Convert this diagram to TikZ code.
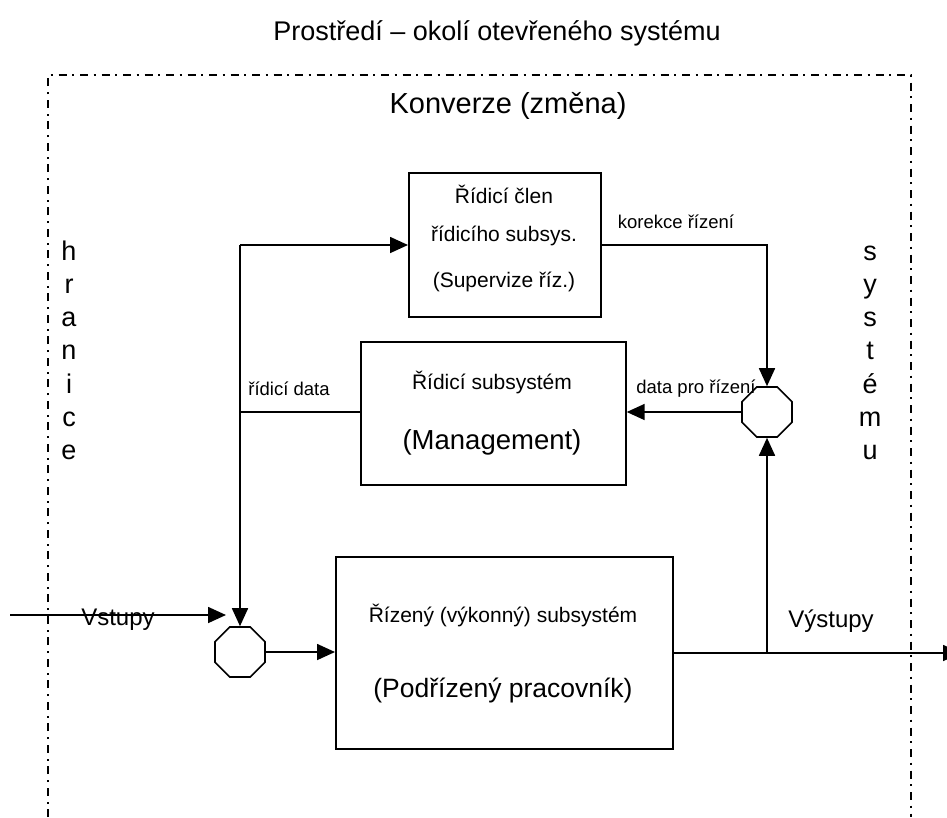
\documentclass[tikz,border=0pt]{standalone}
\usepackage{fontspec}
\setmainfont{Liberation Sans}
\usetikzlibrary{arrows.meta,shapes.geometric}
\begin{document}
\begin{tikzpicture}[x=1pt,y=-1pt,
  line/.style={line width=1.7pt},
  arr/.style={line width=1.7pt,-{Triangle[length=18pt,width=16pt]}},
  bound/.style={line width=1.8pt,dash pattern=on 8pt off 5.5pt on 2pt off 6pt},
  boxnode/.style={draw,line width=1.7pt,anchor=north west,inner sep=0pt},
  oct/.style={draw,line width=1.7pt,regular polygon,regular polygon sides=8,minimum size=54pt,inner sep=0pt},
  big/.style={font=\fontsize{27}{33}\selectfont,anchor=base,inner sep=0pt},
  mid/.style={font=\fontsize{21}{25}\selectfont,anchor=base,inner sep=0pt},
  large/.style={font=\fontsize{27.5}{32}\selectfont,anchor=base,inner sep=0pt},
  small/.style={font=\fontsize{18.5}{22}\selectfont,anchor=base,inner sep=0pt},
  io/.style={font=\fontsize{24}{28}\selectfont,anchor=base,inner sep=0pt}]
\useasboundingbox (0,0) rectangle (947,817);
% boundary
\coordinate (bl) at (48,817);
\coordinate (tl) at (48,75);
\coordinate (tr) at (911,75);
\coordinate (br) at (911,817);
\draw[bound] (bl) -- (tl) -- (tr) -- (br);
% titles
\node[big] (title) at (497,40) {Prostředí – okolí otevřeného systému};
\node[big,font=\fontsize{29}{34}\selectfont] (konv) at (508,113) {Konverze (změna)};
% vertical words
\foreach \l [count=\i] in {h,r,a,n,i,c,e}
  \node[big] (hr\i) at (69,{260+33.3*(\i-1)}) {\l};
\foreach \l [count=\i] in {s,y,s,t,é,m,u}
  \node[big] (sy\i) at (870,{260+33.3*(\i-1)}) {\l};
% boxes
\node[boxnode,minimum width=192pt,minimum height=144pt] (ctl) at (408,172) {};
\node[boxnode,minimum width=265pt,minimum height=143pt] (mgmt) at (360,341) {};
\node[boxnode,minimum width=337pt,minimum height=192pt] (work) at (335,556) {};
% box texts
\node[mid] (c1) at (504,203) {Řídicí člen};
\node[mid] (c2) at (504,241) {řídicího subsys.};
\node[mid] (c3) at (504,287) {(Supervize říz.)};
\node[mid] (m1) at (492,389) {Řídicí subsystém};
\node[large] (m2) at (492,449) {(Management)};
\node[mid] (w1) at (503,622) {Řízený (výkonný) subsystém};
\node[large,font=\fontsize{26.5}{32}\selectfont] (w2) at (503,697) {(Podřízený pracovník)};
% octagons
\node[oct] (o1) at (240,652) {};
\node[oct] (o2) at (767,412) {};
% labels
\node[small] (lk) at (676,228) {korekce řízení};
\node[small] (ld) at (696,393) {data pro řízení};
\node[small] (lr) at (289,395) {řídicí data};
% connectors
\coordinate (cA) at (240,245);
\coordinate (cB) at (767,245);
\coordinate (cJ) at (767,653);
\coordinate (inS) at (10,615);
\coordinate (inE) at (226,615);
\coordinate (outE) at (961,653);
\draw[arr] (cA) -- (o1.north);
\draw[arr] (cA) -- (cA -| ctl.west);
\draw[line] (mgmt.west |- 0,412) -- (240,412);
\draw[arr] (cB -| ctl.east) -- (cB) -- (o2.north);
\draw[arr] (o2.west) -- (o2.west -| mgmt.east);
\draw[arr] (o1.east) -- (o1.east -| work.west);
\draw[line] (cJ -| work.east) -- (cJ);
\draw[arr] (cJ) -- (outE);
\draw[arr] (cJ) -- (o2.south);
\draw[arr] (inS) -- (inE);
\node[io] (vst) at (118,625) {Vstupy};
\node[io] (vyst) at (831,627) {Výstupy};
\end{tikzpicture}
\end{document}
